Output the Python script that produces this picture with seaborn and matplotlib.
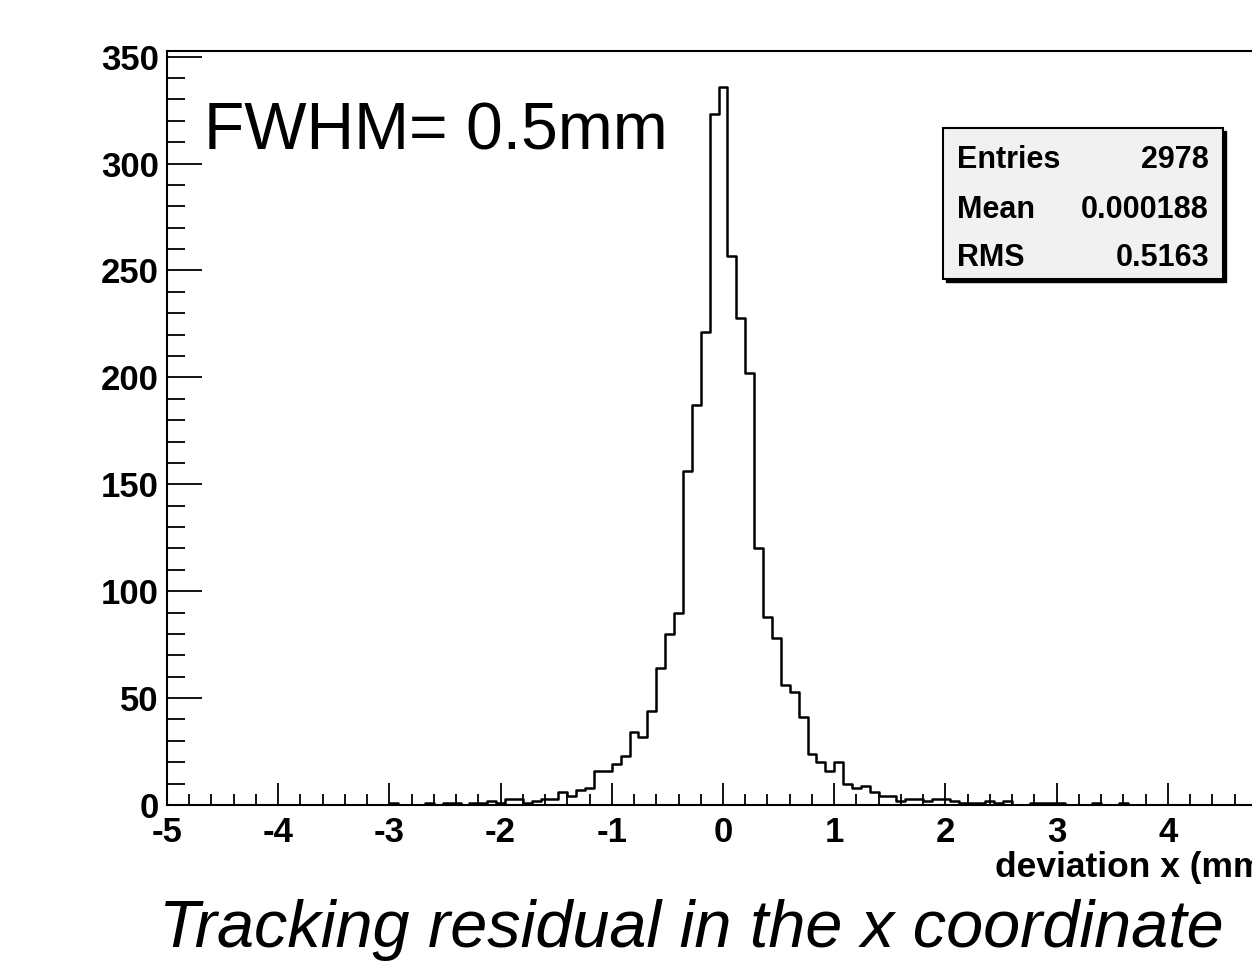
import numpy as np
import pandas as pd
import matplotlib
matplotlib.use("Agg")
import matplotlib.pyplot as plt
from matplotlib.patches import Rectangle
from matplotlib.ticker import MultipleLocator
import seaborn as sns

# ---- data (125 bins from -5 to 5) ----
x_min, x_max, n_bins = -5.0, 5.0, 125
counts = (
    [0] * 25 +
    [1, 0, 0, 0, 1, 0, 1, 1, 0, 1, 1, 2, 1, 3, 3, 1, 2, 3, 3, 6, 4, 7, 8,
     16, 16, 19, 23, 34, 32, 44, 64, 80, 90, 156, 187, 221, 323] +
    [336] +
    [257, 228, 202, 120, 88, 78, 56, 53, 41, 24, 20, 16, 20, 10, 8, 9, 6,
     4, 4, 2, 3, 3, 2, 3, 3, 2, 1, 1, 1, 2, 1, 2, 0, 0, 1, 1, 1, 1, 0, 0,
     0, 1, 0, 0, 1] +
    [0] * 17
)
x_ticks = [-5, -4, -3, -2, -1, 0, 1, 2, 3, 4, 5]
y_ticks = [0, 50, 100, 150, 200, 250, 300, 350]
stat_names = ["Entries", "Mean", "RMS"]
stat_values = ["2978", "0.000188", "0.5163"]
fwhm_text = "FWHM= 0.5mm"
x_title = "deviation x (mm)"
caption = "Tracking residual in the x coordinate"
y_top = 352.8

edges = np.linspace(x_min, x_max, n_bins + 1)
centers = (edges[:-1] + edges[1:]) / 2
df = pd.DataFrame({"deviation": centers, "count": np.array(counts, dtype=float)})

# ---- figure ----
sns.set_style("ticks")
plt.rcParams["font.family"] = ["Liberation Sans", "DejaVu Sans"]
plt.rcParams["text.color"] = "black"
plt.rcParams["xtick.color"] = "black"
plt.rcParams["ytick.color"] = "black"
plt.rcParams["axes.labelcolor"] = "black"

W, H = 1252, 967
fig = plt.figure(figsize=(W / 100, H / 100), dpi=100)
fig.patch.set_facecolor("white")

def fx(px):
    return px / W

def fy(py):
    return 1 - py / H

ax_left, ax_right, ax_top, ax_bottom = 167, 1279, 50.7, 805
ax = fig.add_axes([fx(ax_left), fy(ax_bottom), (ax_right - ax_left) / W,
                   (ax_bottom - ax_top) / H])
ax.set_facecolor("white")

sns.histplot(data=df, x="deviation", weights="count", bins=n_bins,
             binrange=(x_min, x_max), element="step", fill=False,
             color="black", linewidth=1.8, ax=ax)

ax.set_xlim(x_min, x_max)
ax.set_ylim(0, y_top)
ax.set_xticks(x_ticks)
ax.set_yticks(y_ticks)
ax.xaxis.set_minor_locator(MultipleLocator(0.2))
ax.yaxis.set_minor_locator(MultipleLocator(10))
ax.set_xticklabels([str(t) for t in x_ticks])
ax.set_yticklabels([str(t) for t in y_ticks])
ax.set_xlabel("")
ax.set_ylabel("")

for s in ["left", "bottom", "top", "right"]:
    ax.spines[s].set_visible(True)
    ax.spines[s].set_linewidth(1.5)
    ax.spines[s].set_color("black")

ax.tick_params(axis="x", which="major", direction="in", length=16, width=1.3,
               pad=8, labelsize=25, top=False, colors="black")
ax.tick_params(axis="x", which="minor", direction="in", length=8, width=1.3,
               top=False, colors="black")
ax.tick_params(axis="y", which="major", direction="in", length=25, width=1.3,
               pad=6, labelsize=25, right=False, colors="black")
ax.tick_params(axis="y", which="minor", direction="in", length=13, width=1.3,
               right=False, colors="black")
for lab in ax.get_xticklabels() + ax.get_yticklabels():
    lab.set_fontweight("bold")
# the y "0" label sits a little higher in the reference
ax.get_yticklabels()[0].set_verticalalignment("center_baseline")

# x axis title (cropped at right edge as in the reference)
fig.text(fx(995), fy(877), x_title, ha="left", va="baseline",
         fontsize=25.5, fontweight="bold")

# FWHM annotation
fig.text(fx(204), fy(150), fwhm_text, ha="left", va="baseline", fontsize=47.5)

# caption
fig.text(fx(691), fy(947), caption, ha="center", va="baseline",
         fontsize=48, style="italic")

# stats box with shadow
bx0, by0, bx1, by1 = 943, 128, 1223, 279
shadow = Rectangle((fx(bx0 + 3), fy(by1 + 3)), (bx1 - bx0) / W,
                   (by1 - by0) / H, transform=fig.transFigure,
                   facecolor="black", edgecolor="black", zorder=5)
box = Rectangle((fx(bx0), fy(by1)), (bx1 - bx0) / W, (by1 - by0) / H,
                transform=fig.transFigure, facecolor="#f1f1f1",
                edgecolor="black", linewidth=1.5, zorder=6)
fig.add_artist(shadow)
fig.add_artist(box)
row_y = [157, 206, 255]
for name, val, yy in zip(stat_names, stat_values, row_y):
    fig.text(fx(957), fy(yy), name, ha="left", va="center_baseline",
             fontsize=22, fontweight="bold", zorder=7)
    fig.text(fx(1209), fy(yy), val, ha="right", va="center_baseline",
             fontsize=22, fontweight="bold", zorder=7)

fig.savefig("out.png", dpi=100)
